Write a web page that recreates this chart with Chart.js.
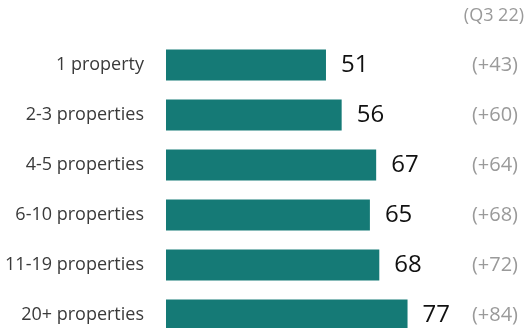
<!DOCTYPE html>
<html>
<head>
<meta charset="utf-8">
<script src="https://cdn.jsdelivr.net/npm/chart.js@4/dist/chart.umd.min.js"></script>
<style>
  html, body { margin: 0; padding: 0; background: #fff; overflow: hidden; }
  #wrap { width: 526px; height: 328px; overflow: hidden; }
  canvas { display: block; }
</style>
</head>
<body>
<div id="wrap"><canvas id="c" width="526" height="340" style="width:526px;height:340px"></canvas></div>
<script>
const categories = ['1 property', '2-3 properties', '4-5 properties', '6-10 properties', '11-19 properties', '20+ properties'];
const values = [51, 56, 67, 65, 68, 77];
const changes = ['(+43)', '(+60)', '(+64)', '(+68)', '(+72)', '(+84)'];
const headerLabel = '(Q3 22)';

const FONT = "'Open Sans', 'Noto Sans', sans-serif";

const valueLabels = {
  id: 'valueLabels',
  afterDatasetsDraw(chart) {
    const ctx = chart.ctx;
    const meta = chart.getDatasetMeta(0);
    ctx.save();
    ctx.font = '24px ' + FONT;
    ctx.fillStyle = '#111111';
    ctx.textAlign = 'left';
    ctx.textBaseline = 'middle';
    meta.data.forEach((bar, i) => {
      ctx.fillText(String(values[i]), bar.x + 15, bar.y);
    });
    const y2 = chart.scales.y2;
    ctx.font = '18px ' + FONT;
    ctx.fillStyle = '#9a9a9a';
    ctx.textAlign = 'right';
    ctx.fillText(headerLabel, y2.right + 6, 16);
    ctx.restore();
  }
};

const zeroPad = (scale) => { scale.paddingTop = 0; scale.paddingBottom = 0; };

new Chart(document.getElementById('c'), {
  type: 'bar',
  data: {
    labels: categories,
    datasets: [{
      data: values,
      backgroundColor: '#157a76',
      borderWidth: 0,
      barPercentage: 0.62,
      categoryPercentage: 1.0
    }]
  },
  options: {
    indexAxis: 'y',
    responsive: false,
    animation: false,
    devicePixelRatio: 1,
    layout: { padding: { top: 40, bottom: 0, left: 0, right: 8 } },
    plugins: { legend: { display: false }, tooltip: { enabled: false }, title: { display: false } },
    scales: {
      x: { display: false, min: 0, max: 95 },
      y: {
        position: 'left',
        grid: { display: false, drawTicks: false },
        border: { display: false },
        ticks: { color: '#3a3a3a', font: { family: FONT, size: 18 }, padding: 22 },
        afterFit(scale) { scale.width = 166; zeroPad(scale); }
      },
      y2: {
        type: 'category',
        labels: changes,
        position: 'right',
        offset: true,
        grid: { display: false, drawTicks: false },
        border: { display: false },
        ticks: { color: '#9a9a9a', font: { family: FONT, size: 20 }, padding: 0, crossAlign: 'far' },
        afterFit(scale) { scale.width = 54; zeroPad(scale); }
      }
    }
  },
  plugins: [valueLabels]
});
</script>
</body>
</html>
